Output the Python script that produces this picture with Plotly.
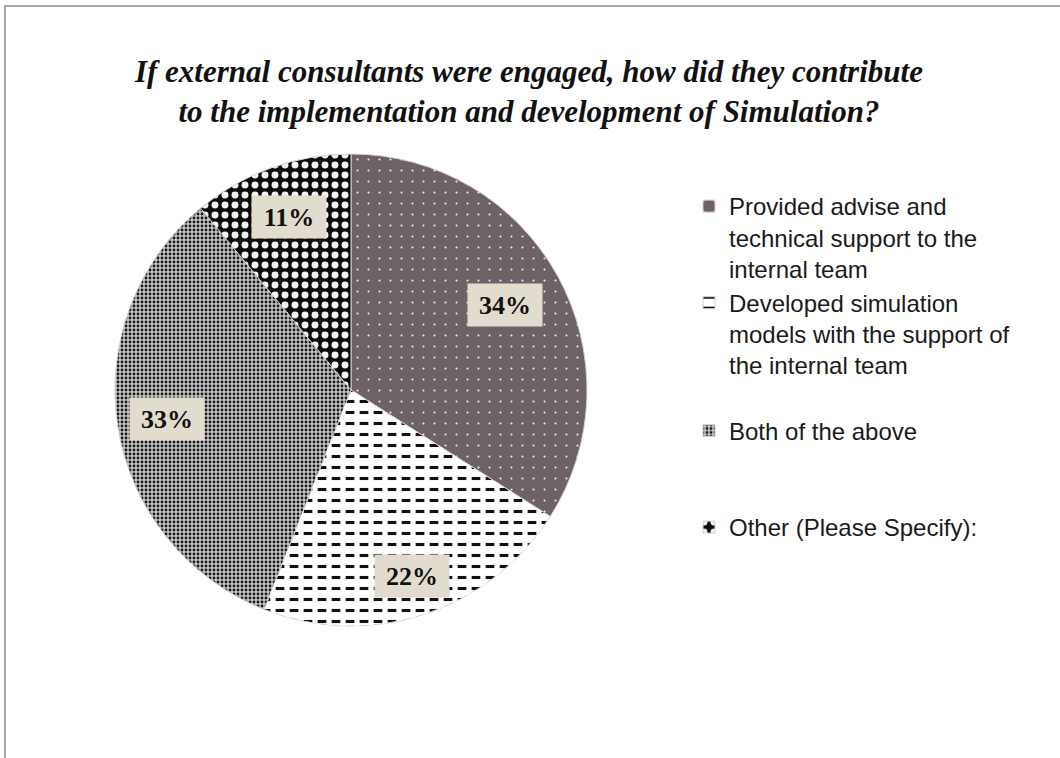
import math
import plotly.graph_objects as go

# Survey answers and their shares (percent)
categories = [
    "Provided advise and<br>technical support to the<br>internal team",
    "Developed simulation<br>models with the support of<br>the internal team",
    "Both of the above",
    "Other (Please Specify):",
]
shares = [34, 22, 33, 11]

# Styling
slice_bg = ["#6d6367", "#ffffff", "#c4c4c4", "#0c0c0c"]
slice_fg = ["#f4f0ea", "#111111", "#1a1a1a", "#f2f2f2"]
slice_shape = [".", "-", ".", "."]
slice_size = [11, 11, 4, 10]
slice_solidity = [0.03, 0.28, 0.40, 0.38]

# blank lines appended to legend entries to space them out
legend_pad = [0, 1, 2, 0]
legend_labels = [c + "<br> " * p for c, p in zip(categories, legend_pad)]

W, H = 1060, 758
dom_x = [115 / W, 587 / W]
dom_y = [1 - 628 / H, 1 - 152 / H]

fig = go.Figure()

fig.add_trace(go.Pie(
    labels=legend_labels,
    values=shares,
    sort=False,
    direction="clockwise",
    rotation=0,
    textinfo="none",
    hoverinfo="label+percent",
    domain=dict(x=dom_x, y=dom_y),
    marker=dict(
        colors=slice_bg,
        line=dict(color="#d9cfcf", width=1),
        pattern=dict(
            shape=slice_shape,
            bgcolor=slice_bg,
            fgcolor=slice_fg,
            size=slice_size,
            solidity=slice_solidity,
            fillmode="replace",
        ),
    ),
    showlegend=True,
))

# white vertical gaps that break the horizontal lines of the second slice into dashes
fig.add_trace(go.Pie(
    labels=legend_labels,
    values=shares,
    sort=False,
    direction="clockwise",
    rotation=0,
    textinfo="none",
    hoverinfo="skip",
    domain=dict(x=dom_x, y=dom_y),
    marker=dict(
        colors=["rgba(0,0,0,0)"] * 4,
        line=dict(width=0),
        pattern=dict(
            shape=["", "|", "", ""],
            bgcolor=["rgba(0,0,0,0)"] * 4,
            fgcolor=["rgba(0,0,0,0)", "#ffffff", "rgba(0,0,0,0)", "rgba(0,0,0,0)"],
            size=[10, 14, 10, 10],
            solidity=[0.3, 0.38, 0.3, 0.3],
            fillmode="replace",
        ),
    ),
    showlegend=False,
))

# percentage boxes placed along each slice's mid-angle
label_radius = [0.745, 0.83, 0.79, 0.78]
cx = (dom_x[0] + dom_x[1]) / 2 * W
cy = (1 - (dom_y[0] + dom_y[1]) / 2) * H
r = min((dom_x[1] - dom_x[0]) * W, (dom_y[1] - dom_y[0]) * H) / 2
total = sum(shares)
annotations = []
cum = 0
for v, f in zip(shares, label_radius):
    mid = (cum + v / 2) / total * 2 * math.pi
    cum += v
    px = cx + f * r * math.sin(mid)
    py = cy - f * r * math.cos(mid)
    annotations.append(dict(
        x=px / W, y=1 - py / H, xref="paper", yref="paper",
        text=f"<b>{v}%</b>", showarrow=False,
        font=dict(family="Liberation Serif", size=26, color="#111111"),
        bgcolor="#e2dccf", width=72, height=40,
        xanchor="center", yanchor="middle",
    ))

fig.update_layout(
    width=W, height=H,
    margin=dict(l=0, r=0, t=0, b=0),
    paper_bgcolor="white",
    title=dict(
        text="<b><i>If external consultants were engaged, how did they contribute<br>"
             "to the implementation and development of Simulation?</i></b>",
        x=0.499, xanchor="center", y=1 - 82 / H, yanchor="top",
        font=dict(family="Liberation Serif", size=31, color="#111111"),
    ),
    legend=dict(
        x=689 / W, xanchor="left", y=1 - 184 / H, yanchor="top",
        valign="top",
        font=dict(family="Liberation Sans", size=24, color="#1a1a1a"),
        bgcolor="rgba(0,0,0,0)",
        itemclick=False, itemdoubleclick=False,
    ),
    annotations=annotations,
    shapes=[dict(
        type="rect", xref="paper", yref="paper",
        x0=5 / W, x1=1.02, y0=-0.02, y1=1 - 6 / H,
        line=dict(color="#8c8c8c", width=1.5),
        fillcolor="rgba(0,0,0,0)", layer="below",
    )],
)

fig.write_html("out.html")
